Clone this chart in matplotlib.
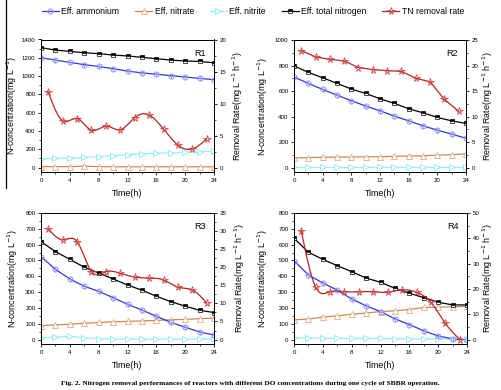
import numpy as np
import matplotlib
matplotlib.use("Agg")
import matplotlib.pyplot as plt
from matplotlib.lines import Line2D
from matplotlib.ticker import MultipleLocator, AutoMinorLocator

# ---------------- data ----------------
time_n = [0, 2, 4, 6, 8, 10, 12, 14, 16, 18, 20, 22, 24]
time_r = [1, 3, 5, 7, 9, 11, 13, 15, 17, 19, 21, 23]

r1_ammonium = [1200, 1175, 1150, 1125, 1105, 1080, 1055, 1035, 1020, 1005, 990, 975, 960]
r1_nitrate = [10, 10, 10, 15, 10, 8, 8, 8, 8, 8, 8, 8, 8]
r1_nitrite = [95, 100, 105, 110, 120, 130, 140, 150, 155, 160, 165, 170, 180]
r1_tn = [1310, 1285, 1270, 1255, 1245, 1230, 1220, 1205, 1190, 1175, 1165, 1160, 1145]
r1_rate = [11.8, 7.3, 7.65, 5.8, 6.45, 5.9, 7.8, 8.2, 6.0, 3.5, 2.9, 4.5]

r2_ammonium = [710, 660, 612, 568, 524, 482, 445, 403, 366, 327, 293, 262, 230]
r2_nitrate = [75, 78, 80, 82, 83, 84, 85, 88, 90, 92, 98, 100, 108]
r2_nitrite = [8, 8, 8, 8, 8, 8, 8, 8, 8, 8, 8, 8, 8]
r2_tn = [798, 746, 704, 660, 615, 581, 539, 503, 461, 429, 393, 366, 346]
r2_rate = [22.9, 21.7, 21.2, 20.9, 19.6, 19.2, 19.0, 18.85, 17.5, 16.8, 13.35, 11.0]

r3_ammonium = [524, 444, 383, 337, 305, 265, 223, 187, 147, 109, 78, 48, 29]
r3_nitrate = [88, 93, 97, 103, 108, 112, 115, 118, 121, 125, 128, 132, 136]
r3_nitrite = [12, 15, 20, 12, 5, 3, 3, 3, 3, 3, 3, 3, 3]
r3_tn = [619, 556, 507, 457, 421, 383, 345, 312, 274, 240, 211, 185, 171]
r3_rate = [30.6, 27.6, 27.1, 18.8, 18.8, 18.3, 17.3, 17.0, 16.5, 14.5, 13.7, 10.1]

r4_ammonium = [499, 408, 358, 312, 257, 213, 177, 131, 95, 55, 23, 4, 0]
r4_nitrate = [125, 130, 142, 150, 160, 168, 177, 182, 190, 203, 205, 207, 210]
r4_nitrite = [10, 10, 8, 7, 7, 7, 7, 6, 5, 4, 3, 2, 2]
r4_tn = [640, 552, 507, 467, 429, 389, 362, 324, 293, 265, 236, 219, 219]
r4_rate = [43.0, 20.7, 18.9, 18.9, 18.9, 18.9, 18.7, 19.7, 18.7, 14.7, 6.4, 0.0]

panels = ["R1", "R2", "R3", "R4"]
left_max = [1400, 1000, 800, 800]
left_step = [200, 200, 100, 100]
right_max = [20, 25, 35, 50]
right_step = [5, 5, 5, 10]
smooth_rate = [True, False, True, True]

legend_labels = ["Eff. ammonium", "Eff. nitrate", "Eff. nitrite",
                 "Eff. total nitrogen", "TN removal rate"]
caption = ("Fig. 2. Nitrogen removal performances of reactors with different "
           "DO concentrations during one cycle of SBBR operation.")

# ---------------- styling ----------------
C_AMM_LINE, C_AMM_MK = "#3535c8", "#8f8fff"
C_NO3_LINE, C_NO3_MK = "#c98a55", "#e8aa78"
C_NO2_LINE, C_NO2_MK = "#8ff2f2", "#7fefef"
C_TN = "black"
C_RATE_LINE, C_RATE_MK = "#b02525", "#d84040"


def natural_spline(x, y, n=300):
    x = np.asarray(x, float)
    y = np.asarray(y, float)
    k = len(x)
    h = np.diff(x)
    A = np.zeros((k, k))
    b = np.zeros(k)
    A[0, 0] = A[-1, -1] = 1
    for i in range(1, k - 1):
        A[i, i - 1] = h[i - 1]
        A[i, i] = 2 * (h[i - 1] + h[i])
        A[i, i + 1] = h[i]
        b[i] = 3 * ((y[i + 1] - y[i]) / h[i] - (y[i] - y[i - 1]) / h[i - 1])
    c = np.linalg.solve(A, b)
    xs = np.linspace(x[0], x[-1], n)
    idx = np.clip(np.searchsorted(x, xs) - 1, 0, k - 2)
    dx = xs - x[idx]
    bb = (y[idx + 1] - y[idx]) / h[idx] - h[idx] * (2 * c[idx] + c[idx + 1]) / 3
    d = (c[idx + 1] - c[idx]) / (3 * h[idx])
    ys = y[idx] + bb * dx + c[idx] * dx ** 2 + d * dx ** 3
    return xs, ys


MK_AMM = dict(marker="o", markersize=3.6, markerfacecolor="none",
              markeredgecolor=C_AMM_MK, markeredgewidth=0.7)
MK_NO3 = dict(marker="^", markersize=4.0, markerfacecolor="white",
              markeredgecolor=C_NO3_MK, markeredgewidth=0.6)
MK_NO2 = dict(marker=">", markersize=4.0, markerfacecolor="white",
              markeredgecolor=C_NO2_MK, markeredgewidth=0.6)
MK_TN = dict(marker="s", markersize=3.3, fillstyle="top", markerfacecolor="black",
             markerfacecoloralt="white", markeredgecolor="black", markeredgewidth=0.5)
MK_RATE = dict(marker="*", markersize=5.5, markerfacecolor="none",
               markeredgecolor=C_RATE_MK, markeredgewidth=0.6)

data = [
    (r1_ammonium, r1_nitrate, r1_nitrite, r1_tn, r1_rate),
    (r2_ammonium, r2_nitrate, r2_nitrite, r2_tn, r2_rate),
    (r3_ammonium, r3_nitrate, r3_nitrite, r3_tn, r3_rate),
    (r4_ammonium, r4_nitrate, r4_nitrite, r4_tn, r4_rate),
]

W, H = 501, 390
fig = plt.figure(figsize=(W / 100, H / 100), dpi=100)
plt.rcParams["font.family"] = ["Liberation Sans", "DejaVu Sans"]

boxes = [(41, 214, 39.5, 172), (294, 466, 40, 172),
         (41, 214, 213, 344), (294, 467, 213, 344)]
# label centre positions in pixels: (left ylabel x, right ylabel x, xlabel y)
label_pos = [(12, 238, 193), (263, 488, 193), (13, 240, 366), (263, 488, 366)]

TICK_FS = 4.4
LAB_FS = 6.4
MARGIN = 0.035

for i, (amm, no3, no2, tn, rate) in enumerate(data):
    x0, x1, y0, y1 = boxes[i]
    ax = fig.add_axes([x0 / W, 1 - y1 / H, (x1 - x0) / W, (y1 - y0) / H])
    ax2 = ax.twinx()

    ax.plot(time_n, no3, color=C_NO3_LINE, lw=0.9, zorder=2)
    ax.plot(time_n, no3, ls="none", zorder=3, **MK_NO3)
    ax.plot(time_n, no2, color=C_NO2_LINE, lw=0.9, zorder=2)
    ax.plot(time_n, no2, ls="none", zorder=3, **MK_NO2)
    ax.plot(time_n, amm, color=C_AMM_LINE, lw=0.9, zorder=2)
    ax.plot(time_n, amm, ls="none", zorder=3, **MK_AMM)
    ax.plot(time_n, amm, ls="none", zorder=3, marker="+", markersize=3.6,
            markeredgecolor=C_AMM_MK, markeredgewidth=0.5)
    ax.plot(time_n, tn, color=C_TN, lw=0.9, zorder=2)
    ax.plot(time_n, tn, ls="none", zorder=3, **MK_TN)

    if smooth_rate[i]:
        xs, ys = natural_spline(time_r, rate)
    else:
        xs, ys = time_r, rate
    ax2.plot(xs, ys, color=C_RATE_LINE, lw=0.9, zorder=2)
    ax2.plot(time_r, rate, ls="none", zorder=3, **MK_RATE)

    ax.set_xlim(0, 24)
    ax.set_ylim(-MARGIN * left_max[i], left_max[i])
    ax2.set_ylim(-MARGIN * right_max[i], right_max[i])
    ax.xaxis.set_major_locator(MultipleLocator(4))
    ax.xaxis.set_minor_locator(MultipleLocator(2))
    ax.yaxis.set_major_locator(MultipleLocator(left_step[i]))
    ax.yaxis.set_minor_locator(AutoMinorLocator(2))
    ax2.yaxis.set_major_locator(MultipleLocator(right_step[i]))
    ax2.yaxis.set_minor_locator(AutoMinorLocator(2))

    for a in (ax, ax2):
        a.tick_params(axis="both", which="major", direction="out", length=2.5,
                      width=0.6, labelsize=TICK_FS, pad=1.5)
        a.tick_params(axis="both", which="minor", direction="out", length=1.5,
                      width=0.5)
        for s in a.spines.values():
            s.set_linewidth(0.7)
    ax.tick_params(axis="x", which="both", top=False)

    lx, rx, by = label_pos[i]
    ax.set_xlabel("Time(h)", fontsize=LAB_FS)
    ax.set_ylabel("N-concentration(mg L$^{-1}$)", fontsize=LAB_FS)
    ax2.set_ylabel("Removal Rate(mg L$^{-1}$ h$^{-1}$)", fontsize=LAB_FS)
    ymid = 1 - (y0 + y1) / 2 / H
    ax.xaxis.set_label_coords((x0 + x1) / 2 / W, 1 - by / H, transform=fig.transFigure)
    ax.xaxis.label.set_va("center")
    ax.yaxis.set_label_coords(lx / W, ymid, transform=fig.transFigure)
    ax.yaxis.label.set_va("center")
    ax2.yaxis.set_label_coords(rx / W, ymid, transform=fig.transFigure)
    ax2.yaxis.label.set_va("center")
    ax.text(0.95, 0.93, panels[i], transform=ax.transAxes, ha="right", va="top",
            fontsize=6.5)

handles = [
    Line2D([], [], color=C_AMM_LINE, lw=0.9, **MK_AMM),
    Line2D([], [], color=C_NO3_LINE, lw=0.9, **MK_NO3),
    Line2D([], [], color=C_NO2_LINE, lw=0.9, **MK_NO2),
    Line2D([], [], color=C_TN, lw=0.9, **MK_TN),
    Line2D([], [], color=C_RATE_LINE, lw=0.9, **MK_RATE),
]
fig.legend(handles, legend_labels, loc="center", bbox_to_anchor=(0.505, 1 - 12 / H),
           ncol=5, frameon=False, fontsize=6.2, handlelength=2.0,
           handletextpad=0.3, columnspacing=1.8)

fig.add_artist(Line2D([5.5 / W, 5.5 / W], [1, 1 - 188 / H], color="black", lw=0.9))

fig.text(0.5, 1 - 383 / H, caption, ha="center", va="center", fontsize=5.3,
         fontweight="bold", family=["Liberation Serif", "DejaVu Serif"])

fig.savefig("out.png", dpi=100)
